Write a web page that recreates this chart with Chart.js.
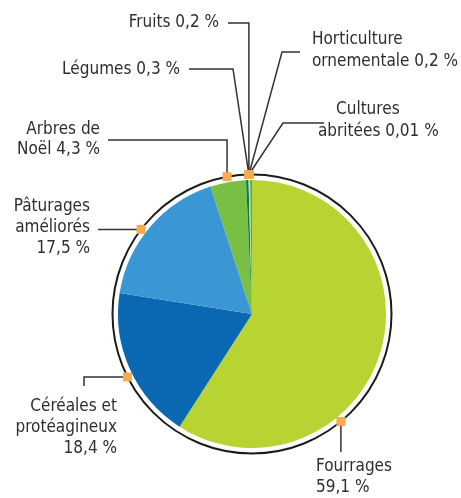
<!DOCTYPE html>
<html>
<head>
<meta charset="utf-8">
<script src="https://cdn.jsdelivr.net/npm/chart.js@4.4.0/dist/chart.umd.min.js"></script>
<style>
  html, body { margin: 0; padding: 0; background: #fff; }
</style>
</head>
<body>
<canvas id="pie" width="461" height="498"></canvas>
<script>
// Data
const categories = ["Fourrages", "Céréales et protéagineux", "Pâturages améliorés", "Arbres de Noël",
  "Légumes", "Fruits", "Horticulture ornementale", "Cultures abritées"];
const shares = [59.1, 18.4, 17.5, 4.3, 0.3, 0.2, 0.2, 0.01];
const shareLabels = ["59,1 %", "18,4 %", "17,5 %", "4,3 %", "0,3 %", "0,2 %", "0,2 %", "0,01 %"];
const colors = ["#b8d433", "#0a67b1", "#3b97d3", "#78bf44", "#0e7c3a", "#b9dcb2", "#3da34c", "#8cc63f"];

// Label layout (text lines, anchor, leader bend points; "m" = marker x/y)
const labels = [
  { slices: [0], frac: 0.66, align: "left", lines: [["Fourrages", 316, 467], ["59,1 %", 316, 488]],
    leader: [["m", 452]] },
  { slices: [1], frac: 0.46, align: "right", lines: [["Céréales et", 117, 407], ["protéagineux", 117, 428], ["18,4 %", 117, 449]],
    leader: [[84, 386], [84, "m"]] },
  { slices: [2], frac: 0.45, align: "right", lines: [["Pâturages", 90, 207], ["améliorés", 90, 228], ["17,5 %", 90, 249]],
    leader: [[98, "m"]] },
  { slices: [3], frac: 0.5, align: "right", lines: [["Arbres de", 100, 130], ["Noël 4,3 %", 100, 150]],
    leader: [[108, 140], ["m", 140]] },
  { slices: [4, 5, 6, 7], frac: 0.5, align: "right", lines: [["Légumes 0,3 %", 180, 70]],
    leader: [[189, 69], [233, 69]] },
  { slices: [4, 5, 6, 7], frac: 0.5, align: "right", lines: [["Fruits 0,2 %", 219, 23]],
    leader: [[228, 23], ["m", 23]] },
  { slices: [4, 5, 6, 7], frac: 0.5, align: "left", lines: [["Horticulture", 312, 40], ["ornementale 0,2 %", 312, 62]],
    leader: [[300, 52], [282, 52]] },
  { slices: [4, 5, 6, 7], frac: 0.5, align: "left", lines: [["Cultures", 336, 110], ["abritées 0,01 %", 318, 132]],
    leader: [[324, 123], [283, 123]] }
];

const FONT = "17px 'DejaVu Sans Condensed', 'Liberation Sans Narrow', 'DejaVu Sans', sans-serif";

const calloutPlugin = {
  id: "callouts",
  afterDatasetsDraw(chart) {
    const ctx = chart.ctx;
    const arcs = chart.getDatasetMeta(0).data;
    const cx = arcs[0].x;
    const cy = arcs[0].y;
    const ringR = arcs[0].outerRadius + 5.5;

    ctx.save();
    // outline ring
    ctx.beginPath();
    ctx.arc(cx, cy, ringR, 0, Math.PI * 2);
    ctx.lineWidth = 2;
    ctx.strokeStyle = "#1c1c1c";
    ctx.stroke();

    // marker positions from slice angles
    const markers = labels.map(lb => {
      const first = arcs[lb.slices[0]];
      const last = arcs[lb.slices[lb.slices.length - 1]];
      const a = first.startAngle + (last.endAngle - first.startAngle) * lb.frac;
      return { x: cx + ringR * Math.cos(a), y: cy + ringR * Math.sin(a) };
    });

    // leader lines
    ctx.strokeStyle = "#333333";
    ctx.lineWidth = 1.5;
    labels.forEach((lb, i) => {
      const m = markers[i];
      ctx.beginPath();
      lb.leader.forEach((p, j) => {
        const x = p[0] === "m" ? m.x : p[0];
        const y = p[1] === "m" ? m.y : p[1];
        if (j === 0) ctx.moveTo(x, y); else ctx.lineTo(x, y);
      });
      ctx.lineTo(m.x, m.y);
      ctx.stroke();
    });

    // markers
    ctx.fillStyle = "#f9aa4c";
    markers.forEach(m => ctx.fillRect(m.x - 4.5, m.y - 4.5, 9, 9));

    // texts
    ctx.font = FONT;
    ctx.fillStyle = "#2e2e2e";
    ctx.textBaseline = "middle";
    labels.forEach(lb => {
      ctx.textAlign = lb.align;
      lb.lines.forEach(([t, x, y]) => ctx.fillText(t, x, y));
    });
    ctx.restore();
  }
};

new Chart(document.getElementById("pie"), {
  type: "pie",
  data: {
    labels: categories,
    datasets: [{
      data: shares,
      backgroundColor: colors,
      borderWidth: 0,
      hoverOffset: 0
    }]
  },
  options: {
    responsive: false,
    animation: false,
    layout: { padding: { left: 118, top: 180, right: 75, bottom: 50 } },
    plugins: {
      legend: { display: false },
      tooltip: { enabled: false }
    }
  },
  plugins: [calloutPlugin]
});
</script>
</body>
</html>
